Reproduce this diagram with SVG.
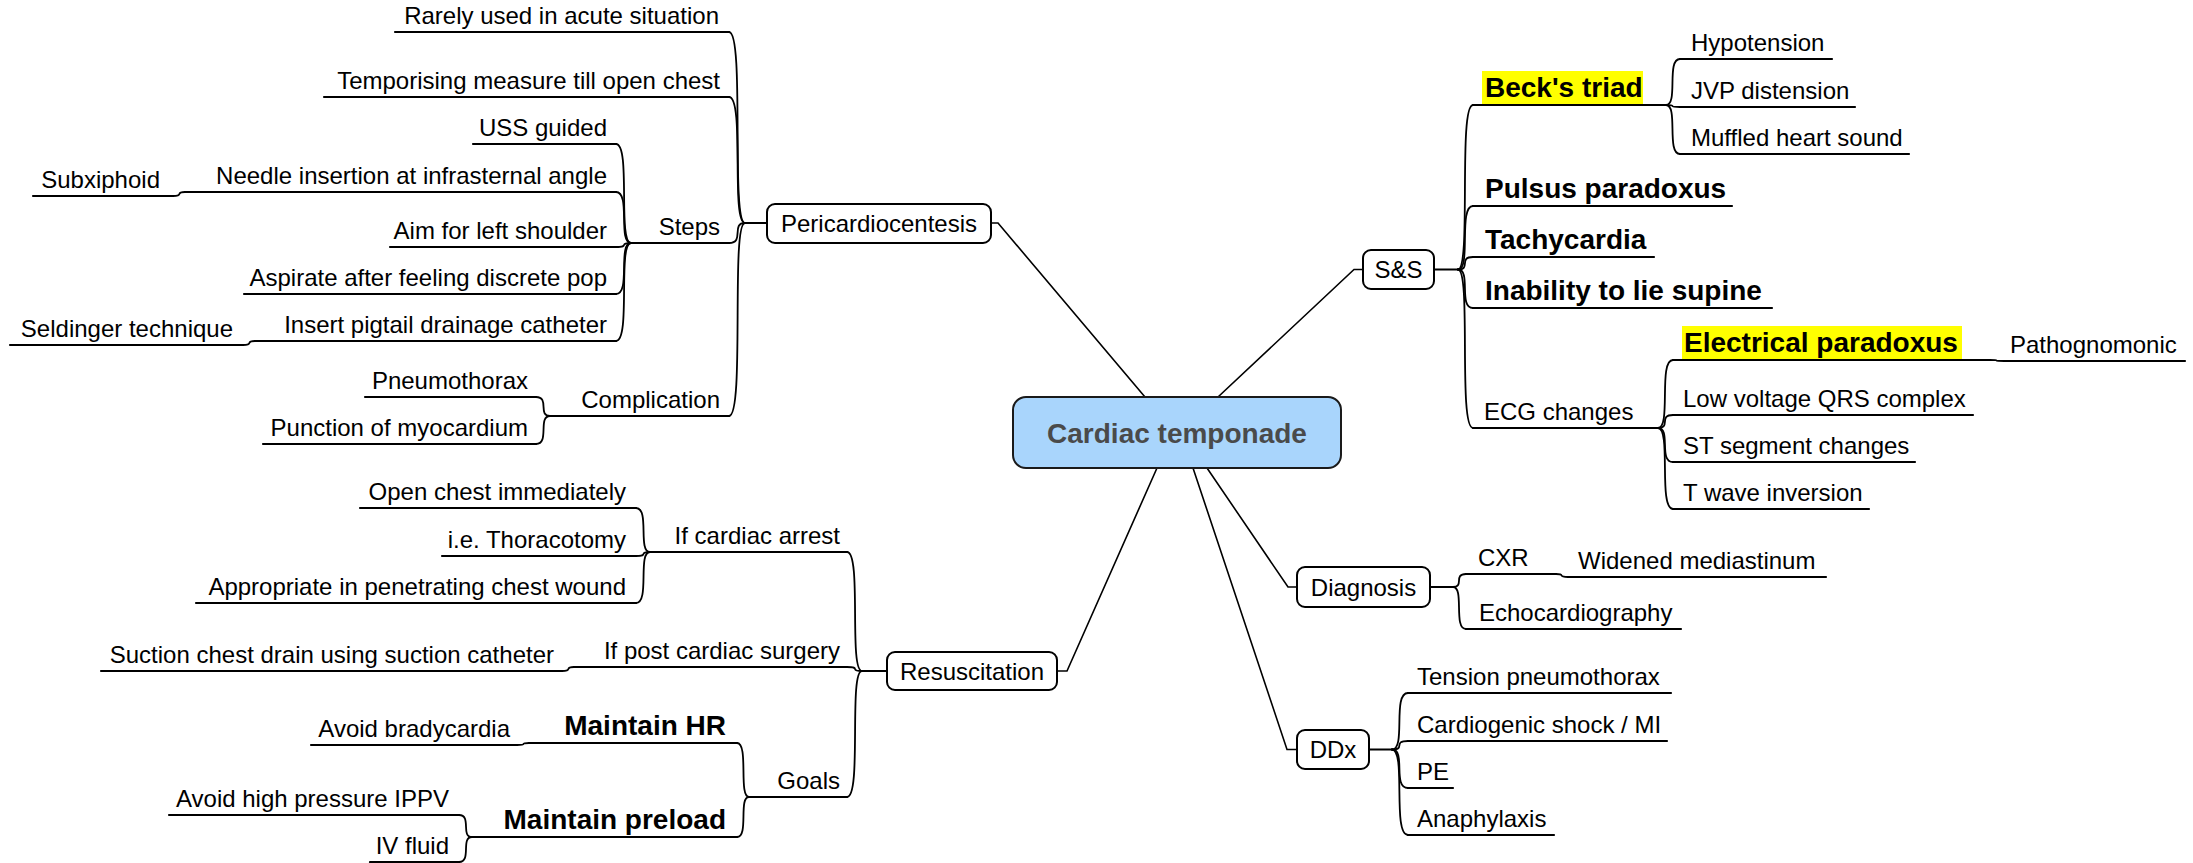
<svg xmlns="http://www.w3.org/2000/svg" width="2193" height="863" viewBox="0 0 2193 863">
  <style>
    text { font-family: "Liberation Sans", Arial, Helvetica, sans-serif; fill: #000; }
    .t { font-size: 24px; }
    .b { font-size: 28px; font-weight: bold; }
    .e { text-anchor: end; }
    .m { text-anchor: middle; }
    .ln { fill: none; stroke: #000; stroke-width: 1.8; stroke-linecap: round; }
    .main { fill: none; stroke: #000; stroke-width: 1.6; }
    .ul { stroke: #000; stroke-width: 2.2; stroke-linecap: round; }
    .box { fill: #fff; stroke: #000; stroke-width: 2; }
    .hl { fill: #ffff00; }
  </style>

  <!-- connectors -->
  <g id="connectors">
    <!-- central topic to main branches -->
    <path class="main" d="M1145 397 L998 223 L991 223"/>
    <path class="main" d="M1218 397 L1354 269.5 L1363 269.5"/>
    <path class="main" d="M1207 468 L1288 587 L1297 587"/>
    <path class="main" d="M1193 468 L1287 749.5 L1297 749.5"/>
    <path class="main" d="M1157 468 L1067 671 L1057 671"/>

    <!-- S&S -->
    <path class="ln" d="M1434 269.5 H1458"/>
    <path class="ln" d="M1458 269.5 C1471.5 269.5 1458 105 1473 105"/>
    <path class="ln" d="M1458 269.5 C1471.5 269.5 1458 206 1473 206"/>
    <path class="ln" d="M1458 269.5 C1471.5 269.5 1458 257 1473 257"/>
    <path class="ln" d="M1458 269.5 C1471.5 269.5 1458 308 1473 308"/>
    <path class="ln" d="M1458 269.5 C1471.5 269.5 1458 428 1473 428"/>
    <!-- Beck's triad -->
    <path class="ln" d="M1666 105 C1678.6 105 1666 59 1680 59"/>
    <path class="ln" d="M1666 105 C1678.6 105 1666 107 1680 107"/>
    <path class="ln" d="M1666 105 C1678.6 105 1666 154 1680 154"/>
    <!-- ECG changes -->
    <path class="ln" d="M1658 428 C1671.5 428 1658 360 1673 360"/>
    <path class="ln" d="M1658 428 C1671.5 428 1658 415 1673 415"/>
    <path class="ln" d="M1658 428 C1671.5 428 1658 462 1673 462"/>
    <path class="ln" d="M1658 428 C1671.5 428 1658 509 1673 509"/>
    <path class="ln" d="M1990 360 C2002.6 360 1990 361 2004 361"/>

    <!-- Diagnosis -->
    <path class="ln" d="M1430 587 H1453"/>
    <path class="ln" d="M1453 587 C1464.7 587 1453 574 1466 574"/>
    <path class="ln" d="M1453 587 C1464.7 587 1453 629 1466 629"/>
    <path class="ln" d="M1556 574 C1566.8 574 1556 577 1568 577"/>

    <!-- DDx -->
    <path class="ln" d="M1369 749.5 H1392"/>
    <path class="ln" d="M1392 749.5 C1406.4 749.5 1392 693 1408 693"/>
    <path class="ln" d="M1392 749.5 C1406.4 749.5 1392 741 1408 741"/>
    <path class="ln" d="M1392 749.5 C1406.4 749.5 1392 788 1408 788"/>
    <path class="ln" d="M1392 749.5 C1406.4 749.5 1392 835 1408 835"/>

    <!-- Pericardiocentesis -->
    <path class="ln" d="M767 223 H745"/>
    <path class="ln" d="M745 223 C730.6 223 745 32 729 32"/>
    <path class="ln" d="M745 223 C730.6 223 745 97 729 97"/>
    <path class="ln" d="M745 223 C730.6 223 745 243 729 243"/>
    <path class="ln" d="M745 223 C730.6 223 745 416 729 416"/>
    <!-- Steps -->
    <path class="ln" d="M631 243 C617.5 243 631 144 616 144"/>
    <path class="ln" d="M631 243 C617.5 243 631 192 616 192"/>
    <path class="ln" d="M631 243 C617.5 243 631 247 616 247"/>
    <path class="ln" d="M631 243 C617.5 243 631 294 616 294"/>
    <path class="ln" d="M631 243 C617.5 243 631 341 616 341"/>
    <path class="ln" d="M185 192 C174.2 192 185 196 173 196"/>
    <path class="ln" d="M255 341 C244.2 341 255 345 243 345"/>
    <!-- Complication -->
    <path class="ln" d="M550 416 C537.4 416 550 397 536 397"/>
    <path class="ln" d="M550 416 C537.4 416 550 444 536 444"/>

    <!-- Resuscitation -->
    <path class="ln" d="M887 671 H862"/>
    <path class="ln" d="M862 671 C848.5 671 862 552 847 552"/>
    <path class="ln" d="M862 671 C848.5 671 862 667 847 667"/>
    <path class="ln" d="M862 671 C848.5 671 862 797 847 797"/>
    <!-- If cardiac arrest -->
    <path class="ln" d="M650 552 C637.4 552 650 508 636 508"/>
    <path class="ln" d="M650 552 C637.4 552 650 556 636 556"/>
    <path class="ln" d="M650 552 C637.4 552 650 603 636 603"/>
    <!-- If post cardiac surgery -->
    <path class="ln" d="M574 667 C563.2 667 574 671 562 671"/>
    <!-- Goals -->
    <path class="ln" d="M749 797 C738.2 797 749 743 737 743"/>
    <path class="ln" d="M749 797 C738.2 797 749 837 737 837"/>
    <path class="ln" d="M529 743 C518.2 743 529 745 517 745"/>
    <path class="ln" d="M472 837 C460.3 837 472 815 459 815"/>
    <path class="ln" d="M472 837 C460.3 837 472 862 459 862"/>
  </g>

  <!-- central topic -->
  <g id="n-cardiac-temponade">
    <rect x="1013" y="397" width="328" height="71" rx="13" fill="#a9d5fc" stroke="#1a1a1a" stroke-width="2"/>
    <text class="b m" x="1177" y="442.5" style="fill:#4a4a4a">Cardiac temponade</text>
  </g>

  <!-- S&S branch -->
  <g id="n-ss">
    <rect class="box" x="1363" y="250" width="71" height="39" rx="8"/>
    <text class="t m" x="1398.5" y="278">S&amp;S</text>
  </g>
  <g id="n-becks-triad">
    <rect class="hl" x="1482" y="71" width="161" height="33"/>
    <line class="ul" x1="1473" y1="105" x2="1666" y2="105"/>
    <text class="b" x="1485" y="97">Beck's triad</text>
  </g>
  <g id="n-hypotension">
    <line class="ul" x1="1680" y1="59" x2="1832" y2="59"/>
    <text class="t" x="1691" y="51">Hypotension</text>
  </g>
  <g id="n-jvp">
    <line class="ul" x1="1680" y1="107" x2="1855" y2="107"/>
    <text class="t" x="1691" y="99">JVP distension</text>
  </g>
  <g id="n-muffled">
    <line class="ul" x1="1680" y1="154" x2="1909" y2="154"/>
    <text class="t" x="1691" y="146">Muffled heart sound</text>
  </g>
  <g id="n-pulsus">
    <line class="ul" x1="1473" y1="206" x2="1732" y2="206"/>
    <text class="b" x="1485" y="198">Pulsus paradoxus</text>
  </g>
  <g id="n-tachycardia">
    <line class="ul" x1="1473" y1="257" x2="1654" y2="257"/>
    <text class="b" x="1485" y="249">Tachycardia</text>
  </g>
  <g id="n-inability">
    <line class="ul" x1="1473" y1="308" x2="1772" y2="308"/>
    <text class="b" x="1485" y="300">Inability to lie supine</text>
  </g>
  <g id="n-ecg">
    <line class="ul" x1="1473" y1="428" x2="1658" y2="428"/>
    <text class="t" x="1484" y="420">ECG changes</text>
  </g>
  <g id="n-electrical">
    <rect class="hl" x="1682" y="326" width="280" height="33"/>
    <line class="ul" x1="1673" y1="360" x2="1990" y2="360"/>
    <text class="b" x="1684" y="352">Electrical paradoxus</text>
  </g>
  <g id="n-pathognomonic">
    <line class="ul" x1="2004" y1="361" x2="2185" y2="361"/>
    <text class="t" x="2010" y="353">Pathognomonic</text>
  </g>
  <g id="n-low-voltage">
    <line class="ul" x1="1673" y1="415" x2="1973" y2="415"/>
    <text class="t" x="1683" y="407">Low voltage QRS complex</text>
  </g>
  <g id="n-st">
    <line class="ul" x1="1673" y1="462" x2="1915" y2="462"/>
    <text class="t" x="1683" y="454">ST segment changes</text>
  </g>
  <g id="n-t-wave">
    <line class="ul" x1="1673" y1="509" x2="1869" y2="509"/>
    <text class="t" x="1683" y="501">T wave inversion</text>
  </g>

  <!-- Diagnosis branch -->
  <g id="n-diagnosis">
    <rect class="box" x="1297" y="567" width="133" height="40" rx="8"/>
    <text class="t m" x="1363.5" y="595.5">Diagnosis</text>
  </g>
  <g id="n-cxr">
    <line class="ul" x1="1466" y1="574" x2="1556" y2="574"/>
    <text class="t" x="1478" y="566">CXR</text>
  </g>
  <g id="n-widened">
    <line class="ul" x1="1568" y1="577" x2="1826" y2="577"/>
    <text class="t" x="1578" y="569">Widened mediastinum</text>
  </g>
  <g id="n-echo">
    <line class="ul" x1="1466" y1="629" x2="1681" y2="629"/>
    <text class="t" x="1479" y="621">Echocardiography</text>
  </g>

  <!-- DDx branch -->
  <g id="n-ddx">
    <rect class="box" x="1297" y="730" width="72" height="39" rx="8"/>
    <text class="t m" x="1333" y="758">DDx</text>
  </g>
  <g id="n-tension">
    <line class="ul" x1="1408" y1="693" x2="1671" y2="693"/>
    <text class="t" x="1417" y="685">Tension pneumothorax</text>
  </g>
  <g id="n-cardiogenic">
    <line class="ul" x1="1408" y1="741" x2="1667" y2="741"/>
    <text class="t" x="1417" y="733">Cardiogenic shock / MI</text>
  </g>
  <g id="n-pe">
    <line class="ul" x1="1408" y1="788" x2="1453" y2="788"/>
    <text class="t" x="1417" y="780">PE</text>
  </g>
  <g id="n-anaphylaxis">
    <line class="ul" x1="1408" y1="835" x2="1554" y2="835"/>
    <text class="t" x="1417" y="827">Anaphylaxis</text>
  </g>

  <!-- Pericardiocentesis branch -->
  <g id="n-pericardiocentesis">
    <rect class="box" x="767" y="204" width="224" height="39" rx="8"/>
    <text class="t m" x="879" y="232">Pericardiocentesis</text>
  </g>
  <g id="n-rarely">
    <line class="ul" x1="395" y1="32" x2="729" y2="32"/>
    <text class="t e" x="719" y="24">Rarely used in acute situation</text>
  </g>
  <g id="n-temporising">
    <line class="ul" x1="324" y1="97" x2="729" y2="97"/>
    <text class="t e" x="720" y="89">Temporising measure till open chest</text>
  </g>
  <g id="n-steps">
    <line class="ul" x1="631" y1="243" x2="729" y2="243"/>
    <text class="t e" x="720" y="235">Steps</text>
  </g>
  <g id="n-uss">
    <line class="ul" x1="473" y1="144" x2="616" y2="144"/>
    <text class="t e" x="607" y="136">USS guided</text>
  </g>
  <g id="n-needle">
    <line class="ul" x1="185" y1="192" x2="616" y2="192"/>
    <text class="t e" x="607" y="184">Needle insertion at infrasternal angle</text>
  </g>
  <g id="n-subxiphoid">
    <line class="ul" x1="33" y1="196" x2="173" y2="196"/>
    <text class="t e" x="160" y="188">Subxiphoid</text>
  </g>
  <g id="n-aim">
    <line class="ul" x1="390" y1="247" x2="616" y2="247"/>
    <text class="t e" x="607" y="239">Aim for left shoulder</text>
  </g>
  <g id="n-aspirate">
    <line class="ul" x1="244" y1="294" x2="616" y2="294"/>
    <text class="t e" x="607" y="286">Aspirate after feeling discrete pop</text>
  </g>
  <g id="n-pigtail">
    <line class="ul" x1="255" y1="341" x2="616" y2="341"/>
    <text class="t e" x="607" y="333">Insert pigtail drainage catheter</text>
  </g>
  <g id="n-seldinger">
    <line class="ul" x1="10" y1="345" x2="243" y2="345"/>
    <text class="t e" x="233" y="337">Seldinger technique</text>
  </g>
  <g id="n-complication">
    <line class="ul" x1="550" y1="416" x2="729" y2="416"/>
    <text class="t e" x="720" y="408">Complication</text>
  </g>
  <g id="n-pneumothorax">
    <line class="ul" x1="365" y1="397" x2="536" y2="397"/>
    <text class="t e" x="528" y="389">Pneumothorax</text>
  </g>
  <g id="n-punction">
    <line class="ul" x1="263" y1="444" x2="536" y2="444"/>
    <text class="t e" x="528" y="436">Punction of myocardium</text>
  </g>

  <!-- Resuscitation branch -->
  <g id="n-resuscitation">
    <rect class="box" x="887" y="652" width="170" height="38" rx="8"/>
    <text class="t m" x="972" y="679.5">Resuscitation</text>
  </g>
  <g id="n-cardiac-arrest">
    <line class="ul" x1="650" y1="552" x2="847" y2="552"/>
    <text class="t e" x="840" y="544">If cardiac arrest</text>
  </g>
  <g id="n-open-chest">
    <line class="ul" x1="360" y1="508" x2="636" y2="508"/>
    <text class="t e" x="626" y="500">Open chest immediately</text>
  </g>
  <g id="n-thoracotomy">
    <line class="ul" x1="442" y1="556" x2="636" y2="556"/>
    <text class="t e" x="626" y="548">i.e. Thoracotomy</text>
  </g>
  <g id="n-penetrating">
    <line class="ul" x1="196" y1="603" x2="636" y2="603"/>
    <text class="t e" x="626" y="595">Appropriate in penetrating chest wound</text>
  </g>
  <g id="n-post-surgery">
    <line class="ul" x1="574" y1="667" x2="847" y2="667"/>
    <text class="t e" x="840" y="659">If post cardiac surgery</text>
  </g>
  <g id="n-suction">
    <line class="ul" x1="101" y1="671" x2="562" y2="671"/>
    <text class="t e" x="554" y="663">Suction chest drain using suction catheter</text>
  </g>
  <g id="n-goals">
    <line class="ul" x1="749" y1="797" x2="847" y2="797"/>
    <text class="t e" x="840" y="789">Goals</text>
  </g>
  <g id="n-maintain-hr">
    <line class="ul" x1="529" y1="743" x2="737" y2="743"/>
    <text class="b e" x="726" y="735">Maintain HR</text>
  </g>
  <g id="n-bradycardia">
    <line class="ul" x1="311" y1="745" x2="517" y2="745"/>
    <text class="t e" x="510" y="737">Avoid bradycardia</text>
  </g>
  <g id="n-maintain-preload">
    <line class="ul" x1="472" y1="837" x2="737" y2="837"/>
    <text class="b e" x="726" y="829">Maintain preload</text>
  </g>
  <g id="n-ippv">
    <line class="ul" x1="169" y1="815" x2="459" y2="815"/>
    <text class="t e" x="449" y="807">Avoid high pressure IPPV</text>
  </g>
  <g id="n-iv-fluid">
    <line class="ul" x1="370" y1="862" x2="459" y2="862"/>
    <text class="t e" x="449" y="854">IV fluid</text>
  </g>
</svg>
